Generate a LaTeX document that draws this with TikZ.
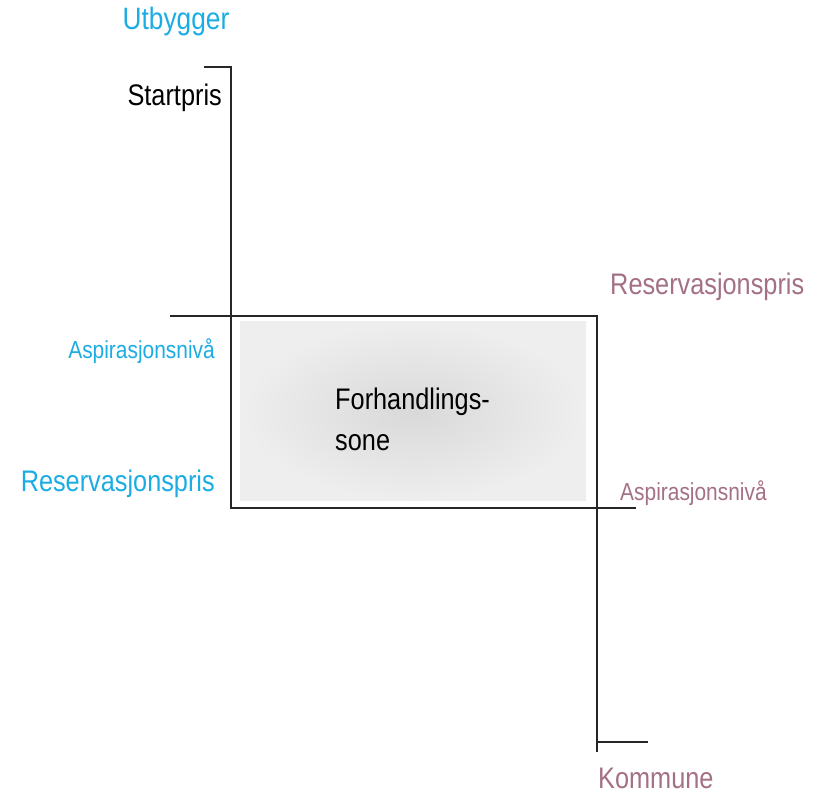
\documentclass[tikz,border=0pt]{standalone}
\usepackage{fontspec}
\setmainfont{Liberation Sans}[FakeStretch=0.85]
\usetikzlibrary{positioning}
\definecolor{utblue}{RGB}{28,172,228}
\definecolor{komred}{RGB}{164,112,134}
\tikzset{
	axisline/.style={draw, line width=1pt, black!85},
	big/.style={inner sep=0pt, font=\fontsize{25.4}{29}\selectfont},
	small/.style={inner sep=0pt, font=\fontsize{21}{25}\selectfont},
	utlabel/.style={text=utblue},
	komlabel/.style={text=komred}
}

\begin{document}
\begin{tikzpicture}[x=0.03cm, y=-0.03cm]
	\useasboundingbox (0,0) rectangle (828,795);
	
	% forhandlingssone
	\shade[inner color=gray!30, outer color=gray!13] (240,322) rectangle (586,501);
	\node(zone) at (335,419) [big, anchor=west, align=left, font=\fontsize{25.4}{35}\selectfont] {Forhandlings-\\sone};
	
	% utbygger
	\coordinate(ut_tick) at (204,67);
	\coordinate(ut_top) at (231,67);
	\coordinate(ut_bot) at (231,508);
	\coordinate(ut_end) at (636,508);
	\draw[axisline] (ut_tick) -- (ut_top) -- (ut_bot) -- (ut_end);
	
	% kommune
	\coordinate(kom_start) at (170,316);
	\coordinate(kom_top) at (597,316);
	\coordinate(kom_bot) at (597,752);
	\coordinate(kom_tick) at (597,742);
	\coordinate(kom_tick_end) at (648,742);
	\draw[axisline] (kom_start) -- (kom_top) -- (kom_bot);
	\draw[axisline] (kom_tick) -- (kom_tick_end);
	
	\node(utbygger) at (176,22) [big, utlabel, font=\fontsize{26.4}{30}\selectfont] {Utbygger};
	\node(startpris) at (222,98) [big, anchor=east] {Startpris};
	\node(ut_asp) at (215,351) [small, utlabel, anchor=east] {Aspirasjonsnivå};
	\node(ut_res) at (215,484) [big, utlabel, anchor=east] {Reservasjonspris};
	
	\node(kom_res) at (610,287) [big, komlabel, anchor=west] {Reservasjonspris};
	\node(kom_asp) at (620,493) [small, komlabel, anchor=west] {Aspirasjonsnivå};
	\node(kommune) at (598,778) [big, komlabel, anchor=west] {Kommune};
\end{tikzpicture}
\end{document}
